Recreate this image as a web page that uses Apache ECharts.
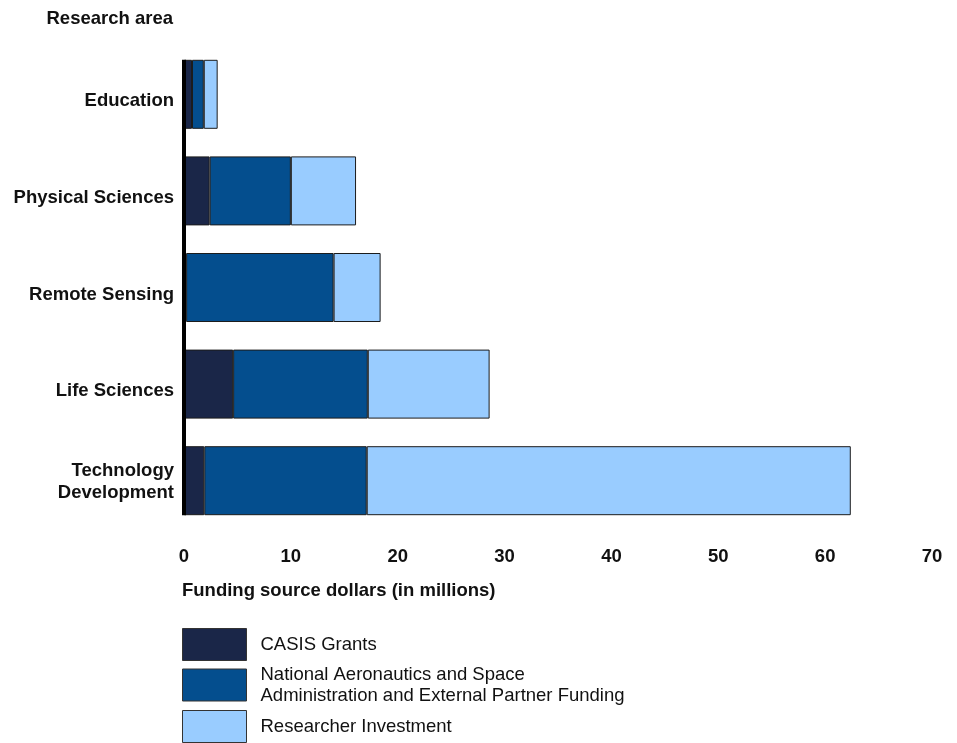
<!DOCTYPE html>
<html>
<head>
<meta charset="utf-8">
<script src="https://cdn.jsdelivr.net/npm/echarts@6/dist/echarts.min.js"></script>
<style>
  html, body { margin: 0; padding: 0; background: #fff; }
  #chart { width: 957px; height: 743px; }
</style>
</head>
<body>
<div id="chart"></div>
<script>
// research areas, top to bottom
const areas = ['Education', 'Physical Sciences', 'Remote Sensing', 'Life Sciences', 'Technology\nDevelopment']
// funding in millions of dollars
const casisGrants = [0.75, 2.4, 0.2, 4.6, 1.9]
const nasaPartner = [1.1, 7.6, 13.8, 12.6, 15.2]
const researcherInv = [1.3, 6.1, 4.4, 11.4, 45.3]
const xTicks = [0, 70, 10]

const font = 'Arial, "Liberation Sans", sans-serif'
const fs = 18.5
const border = { borderColor: '#1c1c1c', borderWidth: 1 }

const chart = echarts.init(document.getElementById('chart'))

const legendBase = {
    orient: 'vertical',
    left: 182,
    padding: 0,
    itemWidth: 64,
    itemHeight: 32,
    itemGap: 8,
    icon: 'rect',
    textStyle: { fontFamily: font, fontSize: fs, color: '#111', lineHeight: 21, padding: [0, 0, 0, 9] },
    itemStyle: { borderColor: '#333', borderWidth: 1 }
}

const labelText = { fontFamily: font, fontSize: fs, fontWeight: 'bold', color: '#111', lineHeight: 22 }

const option = {
    animation: false,
    textStyle: { fontFamily: font },
    title: [
        { text: 'Research area', right: 784, top: 9, padding: 0, textStyle: { fontFamily: font, fontSize: fs, fontWeight: 'bold', color: '#111' } },
        { text: 'Funding source dollars (in millions)', left: 182, top: 581, padding: 0, textStyle: { fontFamily: font, fontSize: fs, fontWeight: 'bold', color: '#111' } }
    ],
    legend: [
        Object.assign({}, legendBase, { data: ['CASIS Grants'], top: 628 }),
        Object.assign({}, legendBase, { data: ['National Aeronautics and Space\nAdministration and External Partner Funding'], top: 664 }),
        Object.assign({}, legendBase, { data: ['Researcher Investment'], top: 710 })
    ],
    grid: { left: 184, right: 25, top: 46, bottom: 214, containLabel: false },
    xAxis: {
        type: 'value',
        min: xTicks[0],
        max: xTicks[1],
        interval: xTicks[2],
        axisLine: { show: false },
        axisTick: { show: false },
        splitLine: { show: false },
        axisLabel: { margin: 18, fontFamily: font, fontSize: fs, fontWeight: 'bold', color: '#111' }
    },
    yAxis: {
        type: 'category',
        data: areas,
        inverse: true,
        axisLine: { show: false },
        axisTick: { show: false },
        axisLabel: Object.assign({
            margin: 10,
            align: 'right',
            formatter: v => v.indexOf('\n') >= 0 ? '{m|' + v.split('\n').join('}\n{m|') + '}' : '{s|' + v + '}',
            rich: {
                s: Object.assign({ padding: [14, 0, 0, 0] }, labelText),
                m: Object.assign({ padding: [3, 0, 0, 0] }, labelText)
            }
        }, labelText)
    },
    series: [
        { name: 'CASIS Grants', type: 'bar', stack: 'f', barWidth: 69, data: casisGrants,
          itemStyle: Object.assign({ color: '#1a2648' }, border) },
        { name: 'National Aeronautics and Space\nAdministration and External Partner Funding', type: 'bar', stack: 'f', data: nasaPartner,
          itemStyle: Object.assign({ color: '#044e8e' }, border) },
        { name: 'Researcher Investment', type: 'bar', stack: 'f', data: researcherInv,
          itemStyle: Object.assign({ color: '#99ccff' }, border) }
    ]
}

chart.setOption(option)

// vertical baseline from top of first bar to bottom of last bar
const half = 69 / 2
const p0 = chart.convertToPixel({ gridIndex: 0 }, [0, 0])
const p1 = chart.convertToPixel({ gridIndex: 0 }, [0, areas.length - 1])
chart.setOption({
    graphic: [{
        type: 'line',
        z: 100,
        shape: { x1: p0[0], y1: p0[1] - half, x2: p1[0], y2: p1[1] + half },
        style: { stroke: '#000', lineWidth: 4 }
    }]
})
</script>
</body>
</html>
